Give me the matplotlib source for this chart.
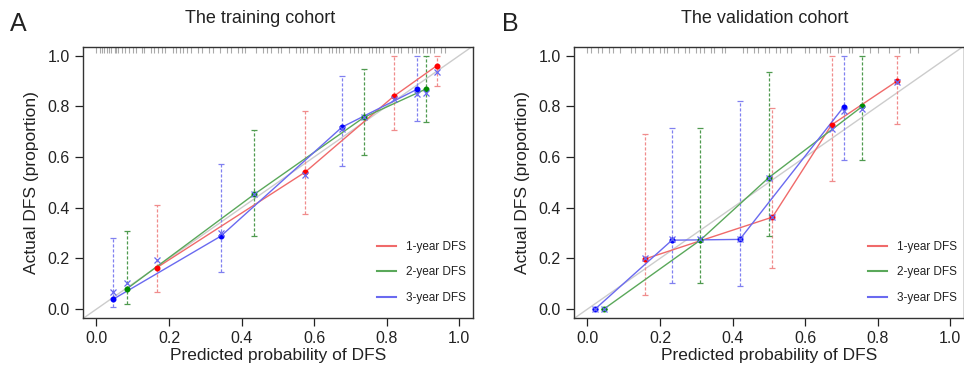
import matplotlib
matplotlib.use("Agg")
import matplotlib.pyplot as plt
from matplotlib.lines import Line2D

plt.rcParams['font.family'] = ['Liberation Sans', 'DejaVu Sans']

series_labels = ["1-year DFS", "2-year DFS", "3-year DFS"]

# ---------------- Panel A: training cohort ----------------
a_pred_1 = [0.167, 0.575, 0.819, 0.938]
a_obs_1 = [0.164, 0.540, 0.839, 0.960]
a_lo_1 = [0.067, 0.376, 0.707, 0.881]
a_hi_1 = [0.409, 0.782, 0.999, 0.999]
a_cor_1 = [0.192, 0.530, 0.828, 0.937]

a_pred_2 = [0.083, 0.435, 0.738, 0.908]
a_obs_2 = [0.079, 0.453, 0.757, 0.868]
a_lo_2 = [0.020, 0.290, 0.609, 0.740]
a_hi_2 = [0.310, 0.705, 0.946, 0.999]
a_cor_2 = [0.105, 0.455, 0.757, 0.854]

a_pred_3 = [0.046, 0.343, 0.677, 0.885]
a_obs_3 = [0.039, 0.288, 0.718, 0.868]
a_lo_3 = [0.007, 0.145, 0.565, 0.743]
a_hi_3 = [0.281, 0.572, 0.920, 0.999]
a_cor_3 = [0.067, 0.300, 0.710, 0.849]

a_rug = [0.00, 0.01, 0.015, 0.02, 0.03, 0.035, 0.04, 0.05, 0.055, 0.06, 0.07, 0.08,
         0.09, 0.10, 0.11, 0.125, 0.13, 0.15, 0.16, 0.17, 0.18, 0.19, 0.21, 0.22,
         0.23, 0.24, 0.25, 0.26, 0.28, 0.29, 0.31, 0.32, 0.34, 0.36, 0.37, 0.39,
         0.40, 0.41, 0.44, 0.46, 0.47, 0.48, 0.50, 0.51, 0.53, 0.55, 0.56, 0.57,
         0.58, 0.60, 0.61, 0.62, 0.64, 0.65, 0.66, 0.67, 0.68, 0.70, 0.71, 0.72,
         0.73, 0.75, 0.76, 0.77, 0.78, 0.79, 0.81, 0.82, 0.83, 0.84, 0.86, 0.87,
         0.88, 0.89, 0.90, 0.91, 0.92, 0.93, 0.95, 0.96]

# ---------------- Panel B: validation cohort ----------------
b_pred_1 = [0.159, 0.510, 0.673, 0.853]
b_obs_1 = [0.198, 0.363, 0.727, 0.899]
b_lo_1 = [0.057, 0.164, 0.505, 0.730]
b_hi_1 = [0.690, 0.793, 1.000, 1.000]
b_cor_1 = [0.200, 0.363, 0.710, 0.895]

b_pred_2 = [0.045, 0.311, 0.500, 0.758]
b_obs_2 = [0.000, 0.272, 0.519, 0.800]
b_lo_2 = [0.000, 0.103, 0.287, 0.588]
b_hi_2 = [0.000, 0.714, 0.937, 1.000]
b_cor_2 = [0.000, 0.276, 0.519, 0.789]

b_pred_3 = [0.021, 0.233, 0.420, 0.707]
b_obs_3 = [0.000, 0.272, 0.275, 0.799]
b_lo_3 = [0.000, 0.103, 0.091, 0.588]
b_hi_3 = [0.000, 0.714, 0.822, 1.000]
b_cor_3 = [0.000, 0.276, 0.278, 0.780]

b_rug = [0.00, 0.01, 0.03, 0.04, 0.06, 0.07, 0.09, 0.12, 0.13, 0.15, 0.17, 0.18,
         0.20, 0.21, 0.22, 0.24, 0.25, 0.27, 0.28, 0.30, 0.31, 0.32, 0.34, 0.35,
         0.37, 0.38, 0.43, 0.44, 0.46, 0.47, 0.49, 0.50, 0.52, 0.53, 0.55, 0.56,
         0.60, 0.61, 0.63, 0.64, 0.66, 0.67, 0.69, 0.70, 0.72, 0.73, 0.76, 0.78,
         0.80, 0.83, 0.86, 0.89, 0.91]

ticks = [0.0, 0.2, 0.4, 0.6, 0.8, 1.0]
tick_labels = ["0.0", "0.2", "0.4", "0.6", "0.8", "1.0"]

pt_colors = ["#ff0000", "#008b00", "#0000ff"]
line_colors = ["#f06a6a", "#5aa85a", "#6a6af0"]
err_colors = ["#f08c8c", "#4f9a4f", "#8080f0"]

W, H = 964, 381
fig = plt.figure(figsize=(W / 100, H / 100), dpi=100)

def make_axes(left_px):
    return fig.add_axes([left_px / W, (H - 318) / H, 390 / W, (318 - 47) / H])

axA = make_axes(83)
axB = make_axes(574)

def draw_panel(ax, data, rug, title, title_x, letter, letter_x):
    xlim = (-0.037, 1.038)
    ylim = (-0.035, 1.034)
    ax.set_xlim(*xlim)
    ax.set_ylim(*ylim)
    ax.plot(xlim, xlim, color="#cccccc", lw=1.0, zorder=1)
    # rug of predicted probabilities along the top
    ax.vlines(rug, 0.978, 1.0, transform=ax.get_xaxis_transform(),
              color="#aaaaaa", lw=0.8, zorder=1)
    handles = []
    for i, (pred, obs, lo, hi, cor) in enumerate(data):
        yerr = [[o - l for o, l in zip(obs, lo)], [h - o for h, o in zip(hi, obs)]]
        eb = ax.errorbar(pred, obs, yerr=yerr, fmt="none", ecolor=err_colors[i],
                         elinewidth=0.9, capsize=2.5, capthick=0.9, zorder=2)
        for lc in eb[2]:
            lc.set_linestyle((0, (2.5, 1.5)))
        ax.plot(pred, obs, color=line_colors[i], lw=1.0, zorder=3)
        ax.plot(pred, obs, "o", color=pt_colors[i], ms=3.3, mec=pt_colors[i], zorder=4)
        ax.plot(pred, cor, "x", color="#6a6af0", ms=4, mew=0.9, zorder=5)
        handles.append(Line2D([], [], color=line_colors[i], lw=1.5))
    ax.set_xticks(ticks)
    ax.set_xticklabels(tick_labels)
    ax.set_yticks(ticks)
    ax.set_yticklabels(tick_labels)
    ax.tick_params(direction="out", length=6, width=0.9, labelsize=11.5, colors="#222222")
    for s in ax.spines.values():
        s.set_linewidth(1.0)
        s.set_color("#333333")
    ax.set_xlabel("Predicted probability of DFS", fontsize=12.5, labelpad=1, color="#222222")
    ax.set_ylabel("Actual DFS (proportion)", fontsize=12.5, labelpad=6, color="#222222")
    ax.text(title_x, 1.107, title, transform=ax.transAxes, fontsize=13,
            ha="center", va="center", color="#222222")
    fig.text(letter_x / W, 1 - 24 / H, letter, fontsize=18, va="center", ha="left", color="#222222")
    leg = ax.legend(handles, series_labels, loc="upper left", bbox_to_anchor=(0.755, 0.285),
                    frameon=False, fontsize=8.5, handlelength=1.6, labelspacing=1.15,
                    borderpad=0, borderaxespad=0, handletextpad=0.8)
    for t in leg.get_texts():
        t.set_color("#222222")

draw_panel(axA,
           [(a_pred_1, a_obs_1, a_lo_1, a_hi_1, a_cor_1),
            (a_pred_2, a_obs_2, a_lo_2, a_hi_2, a_cor_2),
            (a_pred_3, a_obs_3, a_lo_3, a_hi_3, a_cor_3)],
           a_rug, "The training cohort", 0.454, "A", 10)
draw_panel(axB,
           [(b_pred_1, b_obs_1, b_lo_1, b_hi_1, b_cor_1),
            (b_pred_2, b_obs_2, b_lo_2, b_hi_2, b_cor_2),
            (b_pred_3, b_obs_3, b_lo_3, b_hi_3, b_cor_3)],
           b_rug, "The validation cohort", 0.49, "B", 502)

fig.savefig("out.png", dpi=100)
